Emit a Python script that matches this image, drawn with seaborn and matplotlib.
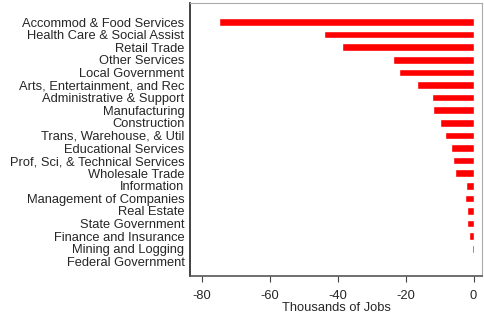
import matplotlib
matplotlib.use("Agg")
import matplotlib.pyplot as plt
import seaborn as sns
import pandas as pd

industries = [
    "Accommod & Food Services", "Health Care & Social Assist", "Retail Trade",
    "Other Services", "Local Government", "Arts, Entertainment, and Rec",
    "Administrative & Support", "Manufacturing", "Construction",
    "Trans, Warehouse, & Util", "Educational Services",
    "Prof, Sci, & Technical Services", "Wholesale Trade", "Information",
    "Management of Companies", "Real Estate", "State Government",
    "Finance and Insurance", "Mining and Logging", "Federal Government",
]
jobs_change = [-74.8, -44.0, -38.7, -23.7, -22.0, -16.6, -12.3, -11.8, -9.8,
               -8.5, -6.7, -5.9, -5.5, -2.2, -2.4, -1.9, -1.8, -1.3, -0.5, -0.1]
x_ticks = [-80, -60, -40, -20, 0]

df = pd.DataFrame({"Industry": industries, "Change": jobs_change})

sns.set_style("white")
plt.rcParams["font.family"] = ["Liberation Sans", "DejaVu Sans"]

fig = plt.figure(figsize=(4.85, 3.15), dpi=100)
ax = fig.add_axes([190 / 485, 1 - 276 / 315, (482 - 190) / 485, (276 - 3) / 315])
sns.barplot(data=df, x="Change", y="Industry", color="#ff0000", saturation=1,
            width=0.6, ax=ax, orient="h")
ax.set_xlim(-83.4, 2.5)
ax.set_ylim(20.16, -1.51)
ax.set_xticks(x_ticks)
ax.set_xticklabels([str(t) for t in x_ticks])
ax.set_xlabel("Thousands of Jobs", fontsize=9.3, labelpad=0)
ax.set_ylabel("")
ax.tick_params(axis="x", labelsize=9.3, length=4, width=0.8, direction="out",
               bottom=True, color="#444444", pad=6)
ax.tick_params(axis="y", labelsize=9.3, length=0, pad=4)
for s in ax.spines.values():
    s.set_visible(True)
    s.set_color("#aaaaaa")
    s.set_linewidth(0.8)
ax.spines["left"].set_color("#222222")
ax.spines["left"].set_linewidth(1.2)
ax.spines["bottom"].set_color("#555555")
ax.spines["bottom"].set_linewidth(1.2)

fig.savefig("out.png", dpi=100)
